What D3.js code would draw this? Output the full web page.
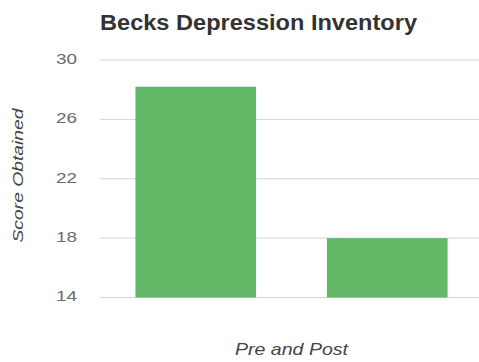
<!DOCTYPE html>
<html>
<head>
<meta charset="utf-8">
<script src="https://cdn.jsdelivr.net/npm/d3@7"></script>
<style>
  html, body { margin: 0; padding: 0; background: #fff; }
  svg { display: block; font-family: "Liberation Sans", Arial, sans-serif; }
</style>
</head>
<body>
<svg id="chart" width="479" height="362"></svg>
<script>
// Beck Depression Inventory scores before and after
const categories = ["Pre", "Post"];
const scores = [28.2, 18];
const yTicks = [14, 18, 22, 26, 30];

const svg = d3.select("#chart");
const W = 479, H = 362;

const x = d3.scaleBand()
  .domain(categories)
  .range([100, 483])
  .paddingInner(0.37)
  .paddingOuter(0.185);

const y = d3.scaleLinear()
  .domain([14, 30])
  .range([297.5, 60]);

// horizontal gridlines
svg.append("g")
  .selectAll("line")
  .data(yTicks)
  .join("line")
  .attr("x1", 100)
  .attr("x2", W)
  .attr("y1", d => y(d))
  .attr("y2", d => y(d))
  .attr("stroke", "#d4d4d4")
  .attr("stroke-width", 1);

// y axis tick labels
const yAxis = d3.axisLeft(y).tickValues(yTicks).tickSize(0).tickPadding(0);
const ga = svg.append("g")
  .attr("transform", "translate(77,0)")
  .call(yAxis);
ga.select(".domain").remove();
ga.selectAll("text")
  .attr("font-size", 15)
  .attr("font-family", "Liberation Sans, Arial, sans-serif")
  .attr("fill", "#6a6a6a")
  .attr("dy", "0.22em")
  .attr("textLength", 21)
  .attr("lengthAdjust", "spacingAndGlyphs");

// bars
svg.append("g")
  .selectAll("rect")
  .data(scores)
  .join("rect")
  .attr("x", (d, i) => x(categories[i]))
  .attr("width", x.bandwidth())
  .attr("y", d => y(d))
  .attr("height", d => y(14) - y(d))
  .attr("fill", "#63b867");

// title
svg.append("text")
  .attr("x", 100)
  .attr("y", 30)
  .attr("font-size", 22)
  .attr("font-weight", "bold")
  .attr("fill", "#333")
  .attr("textLength", 317)
  .attr("lengthAdjust", "spacingAndGlyphs")
  .text("Becks Depression Inventory");

// axis titles
svg.append("text")
  .attr("transform", "translate(23,175.5) rotate(-90)")
  .attr("text-anchor", "middle")
  .attr("font-size", 15)
  .attr("font-style", "italic")
  .attr("fill", "#444")
  .attr("textLength", 134)
  .attr("lengthAdjust", "spacingAndGlyphs")
  .text("Score Obtained");

svg.append("text")
  .attr("x", 291.5)
  .attr("y", 355)
  .attr("text-anchor", "middle")
  .attr("font-size", 17)
  .attr("font-style", "italic")
  .attr("fill", "#444")
  .attr("textLength", 113)
  .attr("lengthAdjust", "spacingAndGlyphs")
  .text("Pre and Post");
</script>
</body>
</html>
